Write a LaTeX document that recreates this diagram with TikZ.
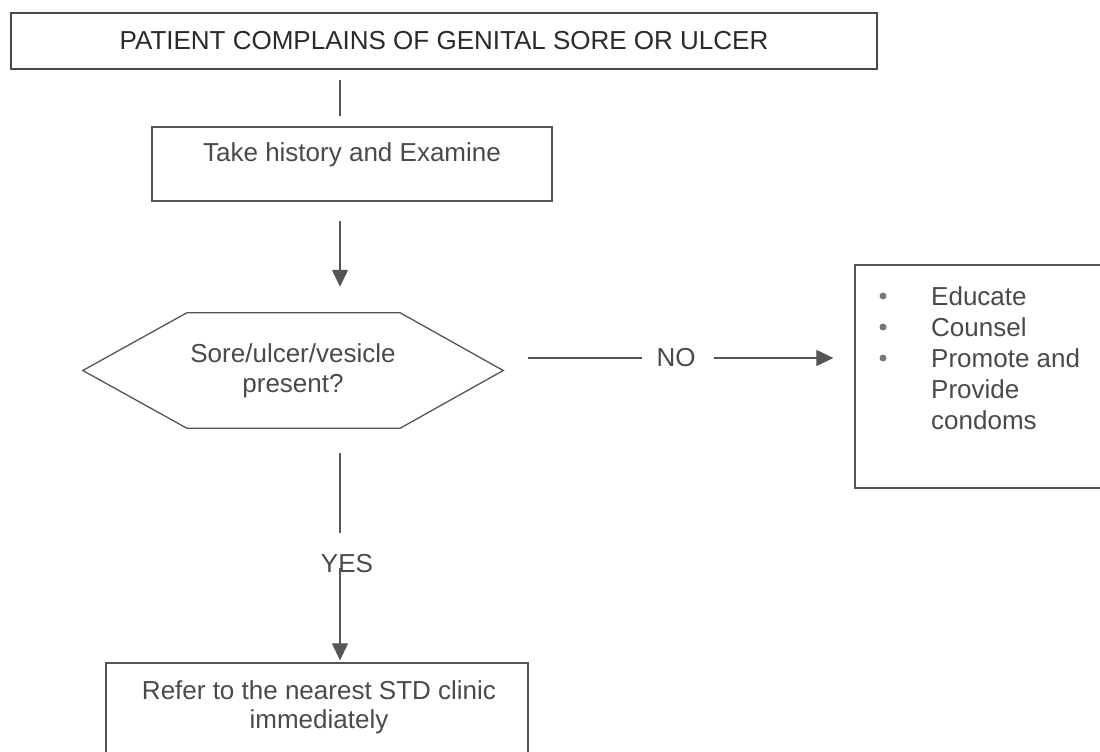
\documentclass[tikz,border=0pt]{standalone}
\usepackage{fontspec}
\setmainfont{Liberation Sans}
\usetikzlibrary{arrows.meta}
\definecolor{ln}{HTML}{555555}
\definecolor{tx}{HTML}{4A4A4A}
\definecolor{txd}{HTML}{2A2A2A}
\begin{document}
\begin{tikzpicture}[x=1pt,y=-1pt,
  frame/.style={draw=ln, line width=1.3pt, inner sep=0pt},
  txt/.style={text=tx, font=\fontsize{26}{30}\selectfont, inner sep=0pt, align=center},
  conn/.style={draw=ln, line width=1.2pt},
  arr/.style={conn, -{Triangle[width=16pt,length=17pt]}}]
\useasboundingbox (0,0) rectangle (1100,752);
\fill[white] (0,0) rectangle (1100,752);
\clip (0,0) rectangle (1100,752);
\coordinate (xl) at (340,0);

% top box
\node[frame, draw=txd!85, line width=2.2pt, minimum width=866pt, minimum height=56pt,
      text=txd, font=\fontsize{26}{30}\selectfont] (top) at (444,41)
      {PATIENT COMPLAINS OF GENITAL SORE OR ULCER};

% history box
\node[frame, draw=txd!80, line width=1.6pt, minimum width=400pt, minimum height=74pt] (hist) at (352,164) {};
\node[txt] (histtxt) at (352,155) {Take history and Examine};

% decision hexagon
\node[txt, minimum width=420pt, minimum height=115pt] (dec) at (293,370.5) {Sore/ulcer/vesicle\\present?};
\draw[frame] (dec.west) -- ([xshift=104pt]dec.north west) -- ([xshift=-103pt]dec.north east)
  -- (dec.east) -- ([xshift=-103pt]dec.south east) -- ([xshift=104pt]dec.south west) -- cycle;

% actions box (right)
\node[frame, minimum width=255pt, minimum height=223pt] (actbox) at (982.5,376.5) {};
\node[txt, align=left, anchor=north west, font=\fontsize{26}{31}\selectfont] (acts) at (931,286)
  {Educate\\Counsel\\Promote and\\Provide\\condoms};
\fill[tx!75] (883,296) circle (3.5pt);
\fill[tx!75] (883,327) circle (3.5pt);
\fill[tx!75] (883,358) circle (3.5pt);

% refer box (bottom)
\node[frame, minimum width=422pt, minimum height=110pt] (refer) at (317,718) {};
\node[txt, anchor=north, font=\fontsize{26}{29}\selectfont] (refertxt) at (319,680)
  {Refer to the nearest STD clinic\\immediately};

% labels
\node[txt] (no) at (676,358) {NO};
\node[txt] (yes) at (347,564) {YES};
\coordinate (nostart) at (528,358);

% connectors
\draw[conn] ([yshift=-10pt]top.south -| xl) -- ([yshift=10pt]hist.north -| xl);
\draw[arr] ([yshift=-19pt]hist.south -| xl) -- ([yshift=26pt]dec.north -| xl);
\draw[conn] ([yshift=-25pt]dec.south -| xl) -- ([yshift=22pt]yes.north -| xl);
\draw[arr] ([yshift=5pt]yes.south -| xl) -- ([yshift=2pt]refer.north -| xl);
\draw[conn] (nostart) -- ([xshift=-14pt]no.west);
\draw[arr] ([xshift=18pt]no.east) -- ([xshift=-21pt]no.east -| actbox.west);
\end{tikzpicture}
\end{document}
